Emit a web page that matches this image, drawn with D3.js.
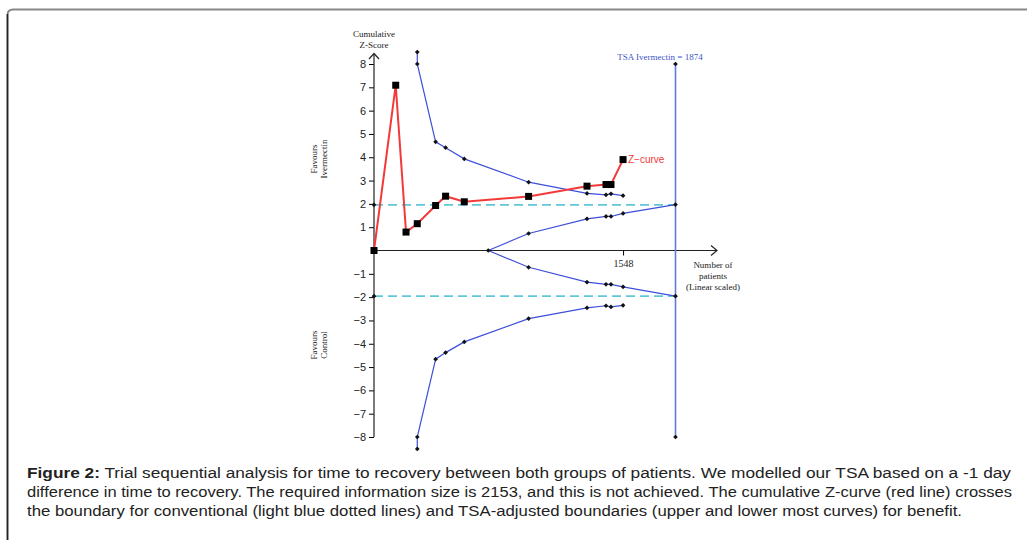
<!DOCTYPE html>
<html><head><meta charset="utf-8">
<script src="https://cdn.jsdelivr.net/npm/d3@7"></script>
<style>html,body{margin:0;padding:0;background:#fff;}svg{display:block;}</style>
</head><body>
<svg id="c" width="1027" height="540"></svg>
<script>
// ---- data ----
const zX = [0, 135, 199, 269, 383, 445, 561, 961, 1324, 1442, 1473, 1548];
const zY = [0, 7.09, 0.79, 1.15, 1.93, 2.33, 2.09, 2.32, 2.76, 2.83, 2.83, 3.9];
const bX = [269, 269, 383, 445, 561, 961, 1324, 1442, 1473, 1548];
const upperY = [8.51, 8.0, 4.66, 4.41, 3.93, 2.93, 2.45, 2.39, 2.43, 2.35];
const lowerY = [-8.51, -8.0, -4.66, -4.38, -3.92, -2.92, -2.46, -2.37, -2.42, -2.35];
const fX = [710, 961, 1324, 1442, 1473, 1548, 1874];
const futUpper = [0, 0.73, 1.36, 1.46, 1.46, 1.59, 1.97];
const futLower = [0, -0.72, -1.36, -1.45, -1.45, -1.56, -1.96];
const convX = [0, 1874];
const convZ = [1.96, -1.96];
const ris = 1874;
const yTicks = [-8, -7, -6, -5, -4, -3, -2, -1, 1, 2, 3, 4, 5, 6, 7, 8];
const xTicks = [1548];
const captionBold = "Figure 2:";
const captionLines = [
  " Trial sequential analysis for time to recovery between both groups of patients. We modelled our TSA based on a -1 day",
  "difference in time to recovery. The required information size is 2153, and this is not achieved. The cumulative Z-curve (red line) crosses",
  "the boundary for conventional (light blue dotted lines) and TSA-adjusted boundaries (upper and lower most curves) for benefit."
];

const svg = d3.select("#c");
// frame
svg.append("path").attr("d", "M7.5,540 L7.5,15 Q7.5,9.5 13,9.5 L1027,9.5")
  .attr("fill", "none").attr("stroke", "#888").attr("stroke-width", 2);
svg.append("line").attr("x1", 7.5).attr("x2", 7.5).attr("y1", 14).attr("y2", 540)
  .attr("stroke", "#222").attr("stroke-width", 1.5);

const x = d3.scaleLinear().domain([0, 1874]).range([374, 675.5]);
const y = d3.scaleLinear().domain([-8, 8]).range([437, 64]);
const serif = "'Liberation Serif', 'Times New Roman', serif";
const sans = "'Liberation Sans', Arial, sans-serif";

// conventional boundaries
convZ.forEach(z => {
  svg.append("line").attr("x1", x(convX[0])).attr("x2", x(convX[1]))
    .attr("y1", y(z)).attr("y2", y(z))
    .attr("stroke", "#5fc8d8").attr("stroke-width", 1.8).attr("stroke-dasharray", "9,5");
});

// y axis
const yAxis = d3.axisLeft(y).tickValues(yTicks).tickSize(5).tickPadding(3)
  .tickFormat(d => d < 0 ? "\u2212" + Math.abs(d) : d);
const gy = svg.append("g").attr("transform", `translate(${x(0)},0)`).call(yAxis);
gy.select(".domain").remove();
gy.selectAll("text").attr("font-family", sans).attr("font-size", 11).attr("fill", "#222");
svg.append("line").attr("x1", x(0)).attr("x2", x(0)).attr("y1", y(-8)).attr("y2", 54)
  .attr("stroke", "#222").attr("stroke-width", 1.2);
svg.append("path").attr("d", `M${x(0)-5},59 L${x(0)},53.5 L${x(0)+5},59`)
  .attr("fill", "none").attr("stroke", "#222").attr("stroke-width", 1.2);

// x axis
svg.append("line").attr("x1", x(0)).attr("x2", 717).attr("y1", y(0)).attr("y2", y(0))
  .attr("stroke", "#222").attr("stroke-width", 1.2);
svg.append("path").attr("d", `M711,${y(0)-5} L717,${y(0)} L711,${y(0)+5}`)
  .attr("fill", "none").attr("stroke", "#222").attr("stroke-width", 1.2);
const xAxis = d3.axisBottom(x).tickValues(xTicks).tickSize(5).tickPadding(4).tickFormat(d3.format("d"));
const gx = svg.append("g").attr("transform", `translate(0,${y(0)})`).call(xAxis);
gx.select(".domain").remove();
gx.selectAll("text").attr("font-family", serif).attr("font-size", 10).attr("fill", "#222");

// vertical RIS line
svg.append("line").attr("x1", x(ris)).attr("x2", x(ris)).attr("y1", y(8)).attr("y2", y(-8))
  .attr("stroke", "#5a7fd4").attr("stroke-width", 1.6);

const line = d3.line().x(d => x(d[0])).y(d => y(d[1]));
const blue = "#3d4fd8";
function boundary(xs, ys) {
  const pts = xs.map((v, i) => [v, ys[i]]);
  svg.append("path").attr("d", line(pts)).attr("fill", "none")
    .attr("stroke", blue).attr("stroke-width", 1.2);
  return pts;
}
const diamonds = [];
diamonds.push(...boundary(bX, upperY));
diamonds.push(...boundary(bX, lowerY));
diamonds.push(...boundary(fX, futUpper));
diamonds.push(...boundary(fX, futLower).slice(1));
diamonds.push([0, convZ[0]], [0, convZ[1]], [ris, 8], [ris, -8]);
svg.append("g").selectAll("path").data(diamonds).join("path")
  .attr("d", d3.symbol(d3.symbolSquare, 11))
  .attr("transform", d => `translate(${x(d[0])},${y(d[1])}) rotate(45)`)
  .attr("fill", "#111");

// Z curve
const zPts = zX.map((v, i) => [v, zY[i]]);
svg.append("path").attr("d", line(zPts)).attr("fill", "none")
  .attr("stroke", "#f23a3a").attr("stroke-width", 2);
svg.append("g").selectAll("rect").data(zPts).join("rect")
  .attr("x", d => x(d[0]) - 3.5).attr("y", d => y(d[1]) - 3.5)
  .attr("width", 7).attr("height", 7).attr("fill", "#000");

// labels
svg.append("text").attr("x", 628).attr("y", y(3.9) + 3.5).text("Z\u2212curve")
  .attr("font-family", sans).attr("font-size", 10).attr("fill", "#f23a3a");
svg.append("text").attr("x", 660).attr("y", 60).attr("text-anchor", "middle")
  .text("TSA Ivermectin = 1874").attr("font-family", serif).attr("font-size", 9).attr("fill", "#3c55c8");
[["Cumulative", 37], ["Z-Score", 48]].forEach(([t, yy]) => {
  svg.append("text").attr("x", x(0)).attr("y", yy).attr("text-anchor", "middle").text(t)
    .attr("font-family", serif).attr("font-size", 9).attr("fill", "#222");
});
[["Number of", 268], ["patients", 279], ["(Linear scaled)", 290]].forEach(([t, yy]) => {
  svg.append("text").attr("x", 713).attr("y", yy).attr("text-anchor", "middle").text(t)
    .attr("font-family", serif).attr("font-size", 9).attr("fill", "#222");
});
function rotLabel(lines, cx, cy) {
  lines.forEach((t, i) => {
    svg.append("text").attr("transform", `translate(${cx + i * 10},${cy}) rotate(-90)`)
      .attr("text-anchor", "middle").text(t)
      .attr("font-family", serif).attr("font-size", 9).attr("fill", "#222");
  });
}
rotLabel(["Favours", "Ivermectin"], 317, 159);
rotLabel(["Favours", "Control"], 317, 345);

// caption
const cap = svg.append("g").attr("font-family", "'Liberation Sans Narrow', 'Liberation Sans', Arial, sans-serif")
  .attr("font-size", 15.5).attr("fill", "#222");
const t1 = cap.append("text").attr("x", 27).attr("y", 478).attr("textLength", 984).attr("lengthAdjust", "spacingAndGlyphs");
t1.append("tspan").attr("font-weight", "bold").text(captionBold);
t1.append("tspan").text(captionLines[0]);
cap.append("text").attr("x", 27).attr("y", 497).attr("textLength", 985).attr("lengthAdjust", "spacingAndGlyphs").text(captionLines[1]);
cap.append("text").attr("x", 27).attr("y", 516).attr("textLength", 935).attr("lengthAdjust", "spacingAndGlyphs").text(captionLines[2]);
</script>
</body></html>
